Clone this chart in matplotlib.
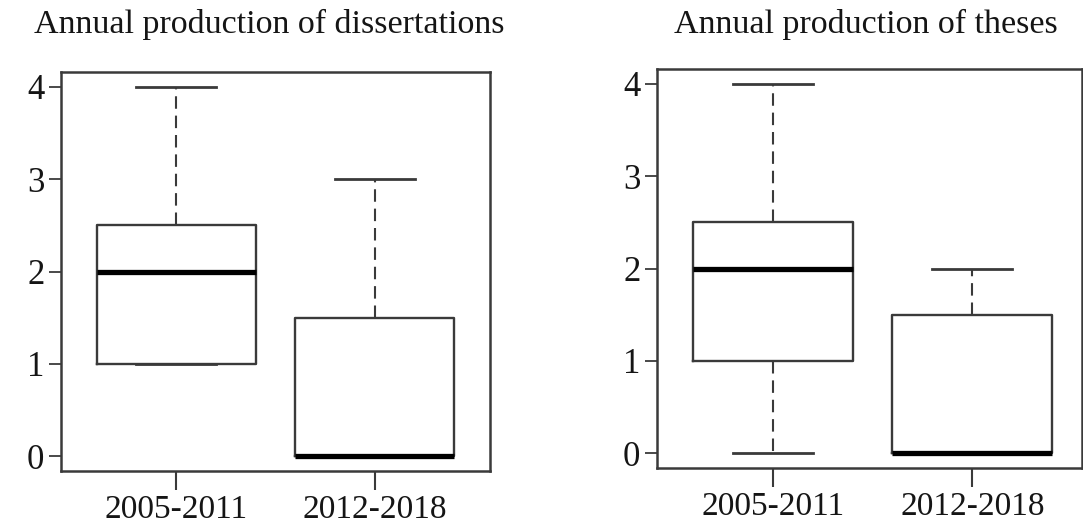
import matplotlib
matplotlib.use('Agg')
import matplotlib.pyplot as plt

# box stats (R style boxplots)
periods = ['2005-2011', '2012-2018']

diss_low = [1, 0]
diss_q1 = [1, 0]
diss_med = [2, 0]
diss_q3 = [2.5, 1.5]
diss_high = [4, 3]

thes_low = [0, 0]
thes_q1 = [1, 0]
thes_med = [2, 0]
thes_q3 = [2.5, 1.5]
thes_high = [4, 2]

yticks = [0, 1, 2, 3, 4]

plt.rcParams['font.family'] = ['Liberation Serif', 'DejaVu Serif']
plt.rcParams['text.color'] = '#151515'

W, H = 1083, 526
fig = plt.figure(figsize=(W / 100, H / 100), dpi=100)


def make_stats(low, q1, med, q3, high):
    out = []
    for i in range(len(periods)):
        out.append({'whislo': low[i], 'q1': q1[i], 'med': med[i], 'q3': q3[i],
                    'whishi': high[i], 'fliers': [], 'label': periods[i]})
    return out


def draw_panel(rect, stats, xlim, title, title_x):
    ax = fig.add_axes(rect)
    edge = '#3a3a3a'
    ax.bxp(stats, positions=[1, 2], widths=0.8, capwidths=0.4, showfliers=False,
           boxprops=dict(color=edge, linewidth=1.7),
           whiskerprops=dict(color=edge, linewidth=1.5, linestyle=(0, (6, 3.3))),
           capprops=dict(color=edge, linewidth=2.0),
           medianprops=dict(color='black', linewidth=3.8, solid_capstyle='butt'))
    ax.set_xlim(*xlim)
    ax.set_ylim(-0.16, 4.16)
    ax.set_yticks(yticks)
    ax.set_yticklabels([str(v) for v in yticks])
    ax.set_xticks([1, 2])
    ax.set_xticklabels(periods)
    for s in ax.spines.values():
        s.set_color(edge)
        s.set_linewidth(1.8)
    ax.tick_params(axis='y', length=9, width=1.3, color=edge, pad=3, labelsize=25,
                   labelcolor='#151515')
    ax.tick_params(axis='x', length=14, width=1.5, color=edge, pad=3, labelsize=24,
                   labelcolor='#151515')
    fig.text(title_x / W, 1 - 33 / H, title, ha='center', va='baseline', fontsize=24.5)
    return ax


draw_panel([61 / W, 1 - 471 / H, (490 - 61) / W, (471 - 72) / H],
           make_stats(diss_low, diss_q1, diss_med, diss_q3, diss_high),
           (0.42, 2.58), 'Annual production of dissertations', 269)

draw_panel([657 / W, 1 - 468 / H, (1082 - 657) / W, (468 - 69) / H],
           make_stats(thes_low, thes_q1, thes_med, thes_q3, thes_high),
           (0.42, 2.55), 'Annual production of theses', 866)

fig.savefig('out.png', dpi=100)
